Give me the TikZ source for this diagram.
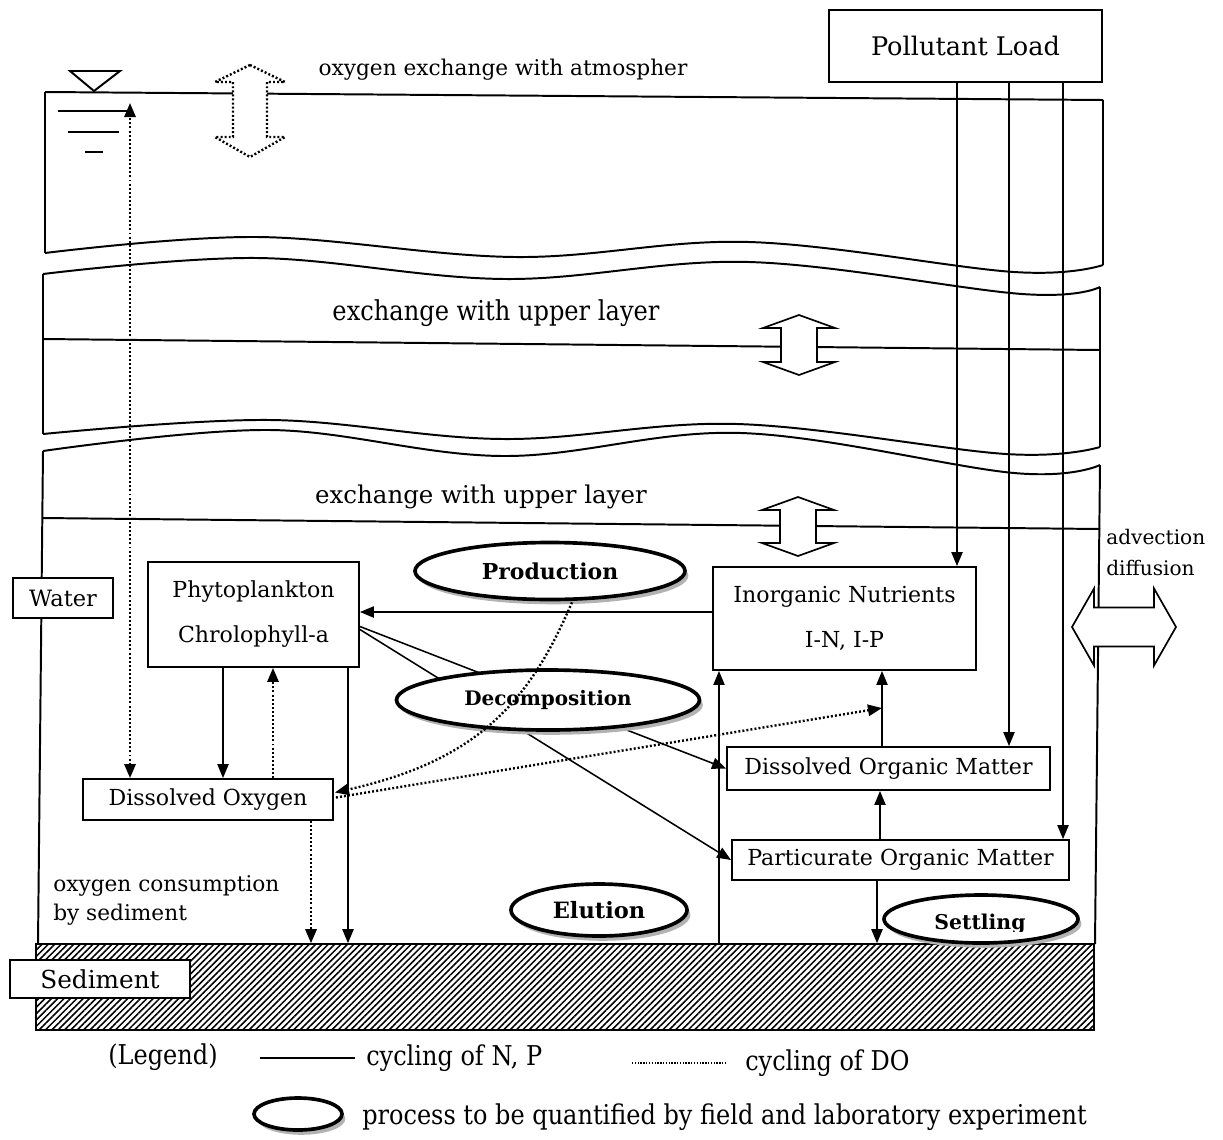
\documentclass[tikz,border=0pt]{standalone}
\usepackage{fontspec}
\setmainfont{DejaVu Serif}
\newfontfamily\condfont[FakeStretch=0.88]{DejaVu Serif}
\usetikzlibrary{arrows.meta,shapes.geometric,shadows,patterns.meta,calc}
\begin{document}
\begin{tikzpicture}[x=0.025cm,y=-0.025cm,
  wall/.style={line width=1.4pt},
  ln/.style={line width=1.1pt},
  arr/.style={line width=1.1pt,-{Triangle[length=10pt,width=8pt]}},
  dotln/.style={line width=1.7pt,dash pattern=on 1.4pt off 1.5pt},
  darr/.style={dotln,-{Triangle[length=10pt,width=8pt]}},
  bx/.style 2 args={draw,line width=1.3pt,fill=white,inner sep=0pt,minimum width=#1*0.025cm,minimum height=#2*0.025cm,font=\fontsize{15.7}{32}\selectfont,align=center},
  proc/.style 2 args={ellipse,draw,line width=2.6pt,fill=white,inner sep=0pt,minimum width=#1*0.025cm,minimum height=#2*0.025cm,font=\bfseries\fontsize{15.2}{20}\selectfont,drop shadow={shadow xshift=2.4pt,shadow yshift=-3.4pt,fill=gray!60,opacity=1}},
  lbl/.style={font=\fontsize{15.4}{22}\selectfont,inner sep=0pt},
  big/.style={font=\condfont\fontsize{19.4}{24}\selectfont,inner sep=0pt},
  hollow/.style={line width=1.2pt,fill=white},
]
\useasboundingbox (0,0) rectangle (1223,1139);

% sediment
\node[draw,line width=1.3pt,pattern={Lines[angle=45,distance=3.2pt,line width=1.1pt]},minimum width=1058*0.025cm,minimum height=86*0.025cm,inner sep=0pt] (sed) at (565,987) {};

% water body outline
\draw[wall] (45,92) -- (1103,100);
\draw[wall] (45,92) -- (45,253);
\draw[wall] (1103,100) -- (1103,265);
\draw[wall] plot[smooth,tension=0.6] coordinates {(45,253) (257,237) (515,257) (749,242) (1014,272) (1103,265)};
\draw[wall] plot[smooth,tension=0.6] coordinates {(43,274) (257,258) (505,279) (749,262) (1022,294) (1100,287)};
\draw[wall] (43,274) -- (43,434);
\draw[wall] (1100,287) -- (1100,447);
\draw[wall] plot[smooth,tension=0.6] coordinates {(43,434) (270,420) (503,439) (737,424) (1006,454) (1100,447)};
\draw[wall] plot[smooth,tension=0.6] coordinates {(43,451) (270,430) (503,456) (741,433) (1014,473) (1100,465)};
\draw[wall] (43,451) -- (38,944);
\draw[wall] (1100,465) -- (1095,944);
\draw[wall] (43,339) -- (1100,350);
\draw[wall] (42,518) -- (1100,529);

% water level symbol
\draw[wall] (70,71) -- (120,71) -- (94,91) -- cycle;
\draw[wall] (58,111) -- (130,111);
\draw[wall] (68,132) -- (119,132);
\draw[wall] (85,152) -- (103,152);

% boxes
\node[bx={273}{72},font=\fontsize{18.2}{24}\selectfont] (pol) at (965.5,46) {Pollutant Load};
\node[bx={211}{105}] (phyto) at (253.5,614.5) {Phytoplankton\\Chrolophyll-a};
\node[bx={263}{103}] (in) at (844.5,618.5) {Inorganic Nutrients\\I-N, I-P};
\node[bx={323}{43}] (dom) at (888.5,768.5) {Dissolved Organic Matter};
\node[bx={337}{40}] (pom) at (900.5,860) {Particurate Organic Matter};
\node[bx={250}{41}] (do) at (208,799.5) {Dissolved Oxygen};
\node[bx={100}{40},font=\fontsize{16}{20}\selectfont] (water) at (63,598) {Water};
\node[bx={180}{38},font=\fontsize{17.6}{24}\selectfont] (sedlbl) at (100,979) {Sediment};

% coordinates for vertical connectors
\coordinate (xa) at (957,0);
\coordinate (xb) at (1009,0);
\coordinate (xc) at (1063,0);
\coordinate (yin) at (0,612);
\coordinate (xg) at (223,0);
\coordinate (xh) at (273,0);
\coordinate (xi) at (348,0);
\coordinate (xj) at (311,0);
\coordinate (xk) at (130,0);
\coordinate (xl) at (719,0);
\coordinate (xm) at (882,0);
\coordinate (xn) at (880,0);
\coordinate (xo) at (877,0);
\coordinate (surf) at (130,103);
\coordinate (dmi) at (882,708);

% solid connectors (cycling of N, P)
\draw[arr] (pol.south -| xa) -- (in.north -| xa);
\draw[arr] (pol.south -| xb) -- (dom.north -| xb);
\draw[arr] (pol.south -| xc) -- (pom.north -| xc);
\draw[arr] (in.west |- yin) -- (phyto.east |- yin);
\draw[arr] ($(phyto.east)+(0,12)$) -- (dom.west);
\draw[arr] ($(phyto.east)+(0,15)$) -- (pom.west);
\draw[arr] (phyto.south -| xg) -- (do.north -| xg);
\draw[arr] (phyto.south -| xi) -- (sed.north -| xi);
\draw[arr] (sed.north -| xl) -- (in.south -| xl);
\draw[arr] (dom.north -| xm) -- (in.south -| xm);
\draw[arr] (pom.north -| xn) -- (dom.south -| xn);
\draw[arr] (pom.south -| xo) -- (sed.north -| xo);

% hollow exchange arrows
\draw[dotln,fill=white] (250,65) -- (285,82) -- (267,82) -- (267,137) -- (285,137) -- (250,157) -- (215,137) -- (233,137) -- (233,82) -- (215,82) -- cycle;
\draw[hollow] (799,315) -- (835,328) -- (817,328) -- (817,362) -- (835,362) -- (799,375) -- (763,362) -- (781,362) -- (781,328) -- (763,328) -- cycle;
\draw[hollow] (798,497) -- (834,510) -- (816,510) -- (816,543) -- (834,543) -- (798,556) -- (762,543) -- (780,543) -- (780,510) -- (762,510) -- cycle;
\draw[hollow] (1072,627) -- (1094,588.5) -- (1094,607.5) -- (1154,607.5) -- (1154,588.5) -- (1176,627) -- (1154,665.5) -- (1154,646.5) -- (1094,646.5) -- (1094,665.5) -- cycle;

% process ellipses
\node[proc={270}{57},font=\bfseries\fontsize{15.6}{20}\selectfont] (prod) at (550,571) {Production};
\node[proc={303}{60},font=\bfseries\fontsize{14.2}{20}\selectfont] (decomp) at (548,700) {Decomposition};
\node[proc={176}{52},font=\bfseries\fontsize{16}{20}\selectfont] (elu) at (599,910) {Elution};
\node[proc={194}{48}] (settle) at (981,919) {};
\begin{scope}
  \clip (880,890) rectangle (1085,931);
  \node[font=\bfseries\fontsize{14.5}{20}\selectfont,inner sep=0pt,anchor=base] (settletxt) at (980,929) {Settling};
\end{scope}

% dotted connectors (cycling of DO)
\draw[dotln,{Triangle[length=10pt,width=8pt]}-{Triangle[length=10pt,width=8pt]}] (do.north -| xk) -- (surf);
\draw[darr] (do.north -| xh) -- (phyto.south -| xh);
\draw[darr] (do.south -| xj) -- (sed.north -| xj);
\draw[darr] ($(do.east)+(2,-2)$) -- (dmi);
\draw[darr] ($(prod.south)+(22,1)$) .. controls (530,700) and (480,760) .. ($(do.east)+(1,-7)$);

% labels
\node[lbl] (oxex) at (503,70) {oxygen exchange with atmospher};
\node[lbl,font=\condfont\fontsize{19.5}{24}\selectfont] (ex1) at (496,313) {exchange with upper layer};
\node[lbl,font=\fontsize{17.4}{24}\selectfont] (ex2) at (481,497) {exchange with upper layer};
\node[lbl,anchor=west,font=\fontsize{14.3}{20}\selectfont] (adv) at (1106,537) {advection};
\node[lbl,anchor=west,font=\fontsize{14.3}{20}\selectfont] (dif) at (1106,568) {diffusion};
\node[lbl,anchor=west] (oc1) at (53,886) {oxygen consumption};
\node[lbl,anchor=west] (oc2) at (53,915) {by sediment};

% legend
\node[big] (leg) at (163,1057) {(Legend)};
\coordinate (l1a) at (260,1058);
\coordinate (l1b) at (355,1058);
\draw[ln] (l1a) -- (l1b);
\node[big,anchor=west] (legnp) at (366,1058) {cycling of N, P};
\coordinate (l2a) at (632,1063);
\coordinate (l2b) at (727,1063);
\draw[line width=1pt,dash pattern=on 1pt off 1pt] (l2a) -- (l2b);
\node[big,anchor=west] (legdo) at (745,1063) {cycling of DO};
\node[proc={88}{32}] (legell) at (298,1114) {};
\node[big,anchor=west] (legpr) at (362,1117) {process to be quantified by field and laboratory experiment};
\end{tikzpicture}
\end{document}
